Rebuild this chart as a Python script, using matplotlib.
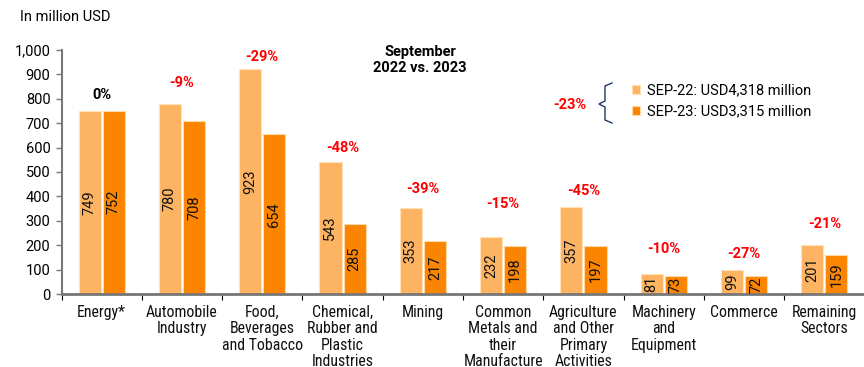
import matplotlib.pyplot as plt
from matplotlib import font_manager
from matplotlib.font_manager import FontProperties
from matplotlib.lines import Line2D
import numpy as np

sectors = ["Energy*", "Automobile\nIndustry", "Food,\nBeverages\nand Tobacco",
           "Chemical,\nRubber and\nPlastic\nIndustries", "Mining",
           "Common\nMetals and\ntheir\nManufacture",
           "Agriculture\nand Other\nPrimary\nActivities",
           "Machinery\nand\nEquipment", "Commerce", "Remaining\nSectors"]
sep_22 = [749, 780, 923, 543, 353, 232, 357, 81, 99, 201]
sep_23 = [752, 708, 654, 285, 217, 198, 197, 73, 72, 159]
changes = ["0%", "-9%", "-29%", "-48%", "-39%", "-15%", "-45%", "-10%", "-27%", "-21%"]
# heights where the change labels sit
change_y = [816, 865, 971, 598, 430, 369, 422, 184, 164, 287]
legend_labels = ["SEP-22: USD4,318 million", "SEP-23: USD3,315 million"]
total_change = "-23%"

LIGHT = "#FDB462"
DARK = "#FB8500"
RED = "#FF0000"

plt.rcParams['font.family'] = ['Roboto', 'DejaVu Sans']


def narrow_font(size):
    # look for a condensed face for the sector names, else plain Roboto
    wanted = ['Roboto Condensed', 'Liberation Sans Narrow', 'Arial Narrow',
              'DejaVu Sans Condensed', 'Noto Sans Condensed', 'Open Sans Condensed']
    for name in wanted:
        for f in font_manager.fontManager.ttflist:
            if f.name == name and f.weight in (400, 'normal', 'regular') \
                    and f.style == 'normal':
                return FontProperties(fname=f.fname, size=size)
    for f in font_manager.fontManager.ttflist:
        if f.stretch in ('condensed', 'semi-condensed') and f.style == 'normal' \
                and f.weight in (400, 'normal', 'regular'):
            return FontProperties(fname=f.fname, size=size)
    return FontProperties(family='Roboto', size=size - 1)


fig = plt.figure(figsize=(8.64, 3.67), dpi=100)
W, H = 864, 367
ax = fig.add_axes([61.5 / W, 1 - 294 / H, 803 / W, 244 / H])

x = np.arange(len(sectors))
w = 0.275
b1 = ax.bar(x - w / 2 - 0.013, sep_22, w, color=LIGHT, edgecolor="#FFE0B8", linewidth=0.8)
b2 = ax.bar(x + w / 2 + 0.013, sep_23, w, color=DARK, edgecolor="#FFD9A8", linewidth=0.8)
ax.bar_label(b1, label_type='center', rotation=90, fontsize=10.5, color='#111111')
ax.bar_label(b2, label_type='center', rotation=90, fontsize=10.5, color='#111111')

for i, (txt, yy) in enumerate(zip(changes, change_y)):
    col = 'black' if txt == "0%" else RED
    ax.text(i, yy, txt, ha='center', va='center', fontsize=10.5,
            fontweight='bold', color=col)

ax.set_xlim(-0.5, len(sectors) - 0.5)
ax.set_ylim(0, 1000)
ax.set_yticks(np.arange(0, 1001, 100))
ax.set_yticklabels([f"{v:,}" for v in range(0, 1001, 100)], fontsize=10.5)
ax.set_xticks(x)
ax.set_xticklabels(sectors, fontproperties=narrow_font(11.4),
                   linespacing=1.1, va='top', color='#111111')
ax.tick_params(axis='x', length=0, pad=8)
ax.set_xticks(np.arange(-0.5, len(sectors)), minor=True)
ax.tick_params(axis='x', which='minor', length=4, width=0.8, color='black',
               direction='out')
ax.tick_params(axis='y', length=4, width=1, color='#777777', pad=4)

for s in ['top', 'right']:
    ax.spines[s].set_visible(False)
ax.spines['left'].set_color('#777777')
ax.spines['left'].set_linewidth(1.5)
ax.spines['bottom'].set_color('#777777')
ax.spines['bottom'].set_linewidth(2)

fig.text(20 / W, 1 - 17 / H, "In million USD", fontsize=10.5, va='center')
fig.text(420 / W, 1 - 60 / H, "September\n2022 vs. 2023", fontsize=10.5,
         fontweight='bold', ha='center', va='center', linespacing=1.2)

# brace linking the two totals
bx, top, bot, mid = 605, 83, 123, 104
pts = [(bx + 7, top), (bx, top + 3), (bx, mid - 3), (bx - 6, mid),
       (bx, mid + 3), (bx, bot - 3), (bx + 7, bot)]
fig.add_artist(Line2D([p[0] / W for p in pts], [1 - p[1] / H for p in pts],
                      color='#1F3864', linewidth=1.0, transform=fig.transFigure))
fig.text(570 / W, 1 - 105 / H, total_change, fontsize=10.5, fontweight='bold',
         color=RED, ha='center', va='center')

fig.legend([b1, b2], legend_labels, loc='center left',
           bbox_to_anchor=(632 / W, 1 - 101 / H), frameon=False, fontsize=10.5,
           handlelength=0.55, handleheight=0.55, handletextpad=0.45,
           labelspacing=0.5, borderpad=0, borderaxespad=0)

fig.savefig("out.png", dpi=100)
